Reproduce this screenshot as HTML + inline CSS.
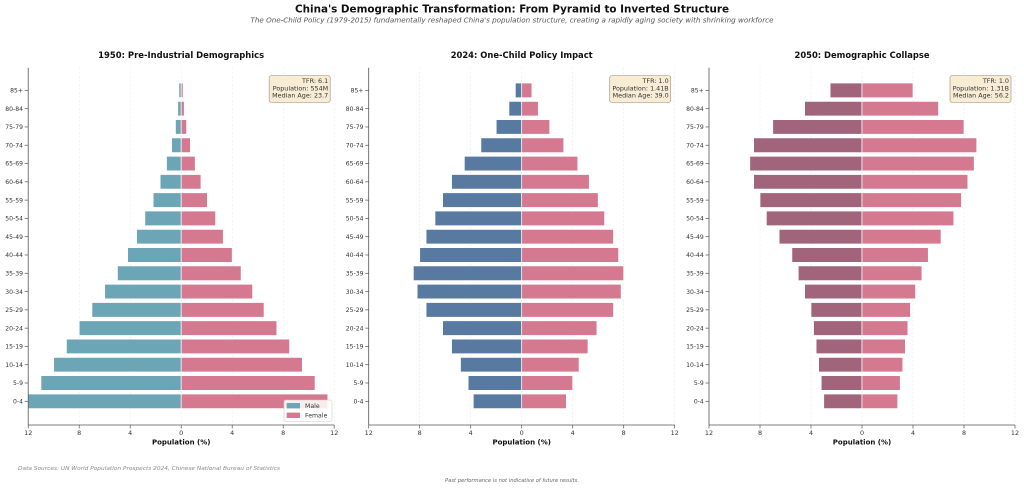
<!DOCTYPE html>
<html>
<head>
<meta charset="utf-8">
<style>
html,body{margin:0;padding:0;background:#fff;}
svg{display:block;}
text{font-family:"DejaVu Sans","Liberation Sans",sans-serif;}
</style>
</head>
<body>
<svg width="1024" height="488" viewBox="0 0 1024 488" xmlns="http://www.w3.org/2000/svg">
<rect width="1024" height="488" fill="#fff"/>

<!-- Titles -->
<text x="512" y="12.7" text-anchor="middle" font-size="10.3" font-weight="bold" fill="#111" textLength="434" lengthAdjust="spacingAndGlyphs">China's Demographic Transformation: From Pyramid to Inverted Structure</text>
<text x="512" y="22.5" text-anchor="middle" font-size="7" font-style="italic" fill="#555" textLength="523" lengthAdjust="spacingAndGlyphs">The One-Child Policy (1979-2015) fundamentally reshaped China's population structure, creating a rapidly aging society with shrinking workforce</text>

<!-- ============ PANEL 1 ============ -->
<g>
<text x="181.2" y="58" text-anchor="middle" font-size="8.4" font-weight="bold" fill="#111" textLength="166" lengthAdjust="spacingAndGlyphs">1950: Pre-Industrial Demographics</text>
<g stroke="#e9e9e9" stroke-width="0.6" stroke-dasharray="2,2">
<line x1="28.2" y1="67.7" x2="28.2" y2="425"/><line x1="79.2" y1="67.7" x2="79.2" y2="425"/><line x1="130.2" y1="67.7" x2="130.2" y2="425"/><line x1="181.2" y1="67.7" x2="181.2" y2="425"/><line x1="232.2" y1="67.7" x2="232.2" y2="425"/><line x1="283.2" y1="67.7" x2="283.2" y2="425"/><line x1="334.2" y1="67.7" x2="334.2" y2="425"/>
</g>
<g transform="translate(181.2,401.3) scale(12.75,-18.29)" stroke="#fff" stroke-width="0.7">
<g fill="#6ca5b5">
<rect x="-12" y="-0.4" width="12" height="0.8" vector-effect="non-scaling-stroke"/>
<rect x="-11" y="0.6" width="11" height="0.8" vector-effect="non-scaling-stroke"/>
<rect x="-10" y="1.6" width="10" height="0.8" vector-effect="non-scaling-stroke"/>
<rect x="-9" y="2.6" width="9" height="0.8" vector-effect="non-scaling-stroke"/>
<rect x="-8" y="3.6" width="8" height="0.8" vector-effect="non-scaling-stroke"/>
<rect x="-7" y="4.6" width="7" height="0.8" vector-effect="non-scaling-stroke"/>
<rect x="-6" y="5.6" width="6" height="0.8" vector-effect="non-scaling-stroke"/>
<rect x="-5" y="6.6" width="5" height="0.8" vector-effect="non-scaling-stroke"/>
<rect x="-4.2" y="7.6" width="4.2" height="0.8" vector-effect="non-scaling-stroke"/>
<rect x="-3.5" y="8.6" width="3.5" height="0.8" vector-effect="non-scaling-stroke"/>
<rect x="-2.85" y="9.6" width="2.85" height="0.8" vector-effect="non-scaling-stroke"/>
<rect x="-2.2" y="10.6" width="2.2" height="0.8" vector-effect="non-scaling-stroke"/>
<rect x="-1.65" y="11.6" width="1.65" height="0.8" vector-effect="non-scaling-stroke"/>
<rect x="-1.15" y="12.6" width="1.15" height="0.8" vector-effect="non-scaling-stroke"/>
<rect x="-0.75" y="13.6" width="0.75" height="0.8" vector-effect="non-scaling-stroke"/>
<rect x="-0.45" y="14.6" width="0.45" height="0.8" vector-effect="non-scaling-stroke"/>
<rect x="-0.27" y="15.6" width="0.27" height="0.8" vector-effect="non-scaling-stroke"/>
<rect x="-0.18" y="16.6" width="0.18" height="0.8" vector-effect="non-scaling-stroke"/>
</g>
<g fill="#d4798f">
<rect x="0" y="-0.4" width="11.5" height="0.8" vector-effect="non-scaling-stroke"/>
<rect x="0" y="0.6" width="10.5" height="0.8" vector-effect="non-scaling-stroke"/>
<rect x="0" y="1.6" width="9.5" height="0.8" vector-effect="non-scaling-stroke"/>
<rect x="0" y="2.6" width="8.5" height="0.8" vector-effect="non-scaling-stroke"/>
<rect x="0" y="3.6" width="7.5" height="0.8" vector-effect="non-scaling-stroke"/>
<rect x="0" y="4.6" width="6.5" height="0.8" vector-effect="non-scaling-stroke"/>
<rect x="0" y="5.6" width="5.6" height="0.8" vector-effect="non-scaling-stroke"/>
<rect x="0" y="6.6" width="4.7" height="0.8" vector-effect="non-scaling-stroke"/>
<rect x="0" y="7.6" width="4.0" height="0.8" vector-effect="non-scaling-stroke"/>
<rect x="0" y="8.6" width="3.3" height="0.8" vector-effect="non-scaling-stroke"/>
<rect x="0" y="9.6" width="2.7" height="0.8" vector-effect="non-scaling-stroke"/>
<rect x="0" y="10.6" width="2.05" height="0.8" vector-effect="non-scaling-stroke"/>
<rect x="0" y="11.6" width="1.55" height="0.8" vector-effect="non-scaling-stroke"/>
<rect x="0" y="12.6" width="1.1" height="0.8" vector-effect="non-scaling-stroke"/>
<rect x="0" y="13.6" width="0.72" height="0.8" vector-effect="non-scaling-stroke"/>
<rect x="0" y="14.6" width="0.42" height="0.8" vector-effect="non-scaling-stroke"/>
<rect x="0" y="15.6" width="0.24" height="0.8" vector-effect="non-scaling-stroke"/>
<rect x="0" y="16.6" width="0.15" height="0.8" vector-effect="non-scaling-stroke"/>
</g>
</g>
<g stroke="#555" stroke-width="0.8" fill="none">
<line x1="28.2" y1="67.7" x2="28.2" y2="425"/>
<line x1="28.2" y1="425" x2="334.2" y2="425"/>
</g>
<g stroke="#555" stroke-width="0.7">
<line x1="28.2" y1="425" x2="28.2" y2="428.5"/><line x1="79.2" y1="425" x2="79.2" y2="428.5"/><line x1="130.2" y1="425" x2="130.2" y2="428.5"/><line x1="181.2" y1="425" x2="181.2" y2="428.5"/><line x1="232.2" y1="425" x2="232.2" y2="428.5"/><line x1="283.2" y1="425" x2="283.2" y2="428.5"/><line x1="334.2" y1="425" x2="334.2" y2="428.5"/>
<line x1="24.7" y1="90.37" x2="28.2" y2="90.37"/><line x1="24.7" y1="108.66" x2="28.2" y2="108.66"/><line x1="24.7" y1="126.95" x2="28.2" y2="126.95"/><line x1="24.7" y1="145.24" x2="28.2" y2="145.24"/><line x1="24.7" y1="163.53" x2="28.2" y2="163.53"/><line x1="24.7" y1="181.82" x2="28.2" y2="181.82"/><line x1="24.7" y1="200.11" x2="28.2" y2="200.11"/><line x1="24.7" y1="218.4" x2="28.2" y2="218.4"/><line x1="24.7" y1="236.69" x2="28.2" y2="236.69"/><line x1="24.7" y1="254.98" x2="28.2" y2="254.98"/><line x1="24.7" y1="273.27" x2="28.2" y2="273.27"/><line x1="24.7" y1="291.56" x2="28.2" y2="291.56"/><line x1="24.7" y1="309.85" x2="28.2" y2="309.85"/><line x1="24.7" y1="328.14" x2="28.2" y2="328.14"/><line x1="24.7" y1="346.43" x2="28.2" y2="346.43"/><line x1="24.7" y1="364.72" x2="28.2" y2="364.72"/><line x1="24.7" y1="383.01" x2="28.2" y2="383.01"/><line x1="24.7" y1="401.3" x2="28.2" y2="401.3"/>
</g>
<g font-size="6.1" fill="#333" text-anchor="end">
<text x="23" y="92.5">85+</text><text x="23" y="110.8">80-84</text><text x="23" y="129.1">75-79</text><text x="23" y="147.4">70-74</text><text x="23" y="165.7">65-69</text><text x="23" y="184">60-64</text><text x="23" y="202.3">55-59</text><text x="23" y="220.6">50-54</text><text x="23" y="238.9">45-49</text><text x="23" y="257.2">40-44</text><text x="23" y="275.5">35-39</text><text x="23" y="293.8">30-34</text><text x="23" y="312">25-29</text><text x="23" y="330.3">20-24</text><text x="23" y="348.6">15-19</text><text x="23" y="366.9">10-14</text><text x="23" y="385.2">5-9</text><text x="23" y="403.5">0-4</text>
</g>
<g font-size="6.4" fill="#333" text-anchor="middle">
<text x="28.2" y="435.2">12</text><text x="79.2" y="435.2">8</text><text x="130.2" y="435.2">4</text><text x="181.2" y="435.2">0</text><text x="232.2" y="435.2">4</text><text x="283.2" y="435.2">8</text><text x="334.2" y="435.2">12</text>
</g>
<text x="181.2" y="444.5" text-anchor="middle" font-size="7" font-weight="bold" fill="#111">Population (%)</text>
<rect x="269.2" y="75.7" width="61" height="26.6" rx="2" fill="#f8ecd4" stroke="#a99c84" stroke-width="0.7"/>
<g font-size="6.4" fill="#333" text-anchor="end">
<text x="328.2" y="83">TFR: 6.1</text><text x="328.2" y="90.3">Population: 554M</text><text x="328.2" y="97.6">Median Age: 23.7</text>
</g>
<rect x="284" y="400" width="48" height="21.5" rx="2" fill="#fff" fill-opacity="0.85" stroke="#cccccc" stroke-width="0.6"/>
<rect x="286.7" y="403" width="13.3" height="5.4" fill="#6ca5b5"/>
<rect x="286.7" y="412.6" width="13.3" height="5.4" fill="#d4798f"/>
<g font-size="6.2" fill="#333">
<text x="305" y="408.2">Male</text><text x="305" y="417.6">Female</text>
</g>
</g>

<!-- ============ PANEL 2 ============ -->
<g>
<text x="521.7" y="58" text-anchor="middle" font-size="8.4" font-weight="bold" fill="#111" textLength="142" lengthAdjust="spacingAndGlyphs">2024: One-Child Policy Impact</text>
<g stroke="#e9e9e9" stroke-width="0.6" stroke-dasharray="2,2">
<line x1="368.7" y1="67.7" x2="368.7" y2="425"/><line x1="419.7" y1="67.7" x2="419.7" y2="425"/><line x1="470.7" y1="67.7" x2="470.7" y2="425"/><line x1="521.7" y1="67.7" x2="521.7" y2="425"/><line x1="572.7" y1="67.7" x2="572.7" y2="425"/><line x1="623.7" y1="67.7" x2="623.7" y2="425"/><line x1="674.7" y1="67.7" x2="674.7" y2="425"/>
</g>
<g transform="translate(521.7,401.3) scale(12.75,-18.29)" stroke="#fff" stroke-width="0.7">
<g fill="#587aa0">
<rect x="-3.8" y="-0.4" width="3.8" height="0.8" vector-effect="non-scaling-stroke"/>
<rect x="-4.2" y="0.6" width="4.2" height="0.8" vector-effect="non-scaling-stroke"/>
<rect x="-4.8" y="1.6" width="4.8" height="0.8" vector-effect="non-scaling-stroke"/>
<rect x="-5.5" y="2.6" width="5.5" height="0.8" vector-effect="non-scaling-stroke"/>
<rect x="-6.2" y="3.6" width="6.2" height="0.8" vector-effect="non-scaling-stroke"/>
<rect x="-7.5" y="4.6" width="7.5" height="0.8" vector-effect="non-scaling-stroke"/>
<rect x="-8.2" y="5.6" width="8.2" height="0.8" vector-effect="non-scaling-stroke"/>
<rect x="-8.5" y="6.6" width="8.5" height="0.8" vector-effect="non-scaling-stroke"/>
<rect x="-8.0" y="7.6" width="8.0" height="0.8" vector-effect="non-scaling-stroke"/>
<rect x="-7.5" y="8.6" width="7.5" height="0.8" vector-effect="non-scaling-stroke"/>
<rect x="-6.8" y="9.6" width="6.8" height="0.8" vector-effect="non-scaling-stroke"/>
<rect x="-6.2" y="10.6" width="6.2" height="0.8" vector-effect="non-scaling-stroke"/>
<rect x="-5.5" y="11.6" width="5.5" height="0.8" vector-effect="non-scaling-stroke"/>
<rect x="-4.5" y="12.6" width="4.5" height="0.8" vector-effect="non-scaling-stroke"/>
<rect x="-3.2" y="13.6" width="3.2" height="0.8" vector-effect="non-scaling-stroke"/>
<rect x="-2.0" y="14.6" width="2.0" height="0.8" vector-effect="non-scaling-stroke"/>
<rect x="-1.0" y="15.6" width="1.0" height="0.8" vector-effect="non-scaling-stroke"/>
<rect x="-0.5" y="16.6" width="0.5" height="0.8" vector-effect="non-scaling-stroke"/>
</g>
<g fill="#d4798f">
<rect x="0" y="-0.4" width="3.5" height="0.8" vector-effect="non-scaling-stroke"/>
<rect x="0" y="0.6" width="4.0" height="0.8" vector-effect="non-scaling-stroke"/>
<rect x="0" y="1.6" width="4.5" height="0.8" vector-effect="non-scaling-stroke"/>
<rect x="0" y="2.6" width="5.2" height="0.8" vector-effect="non-scaling-stroke"/>
<rect x="0" y="3.6" width="5.9" height="0.8" vector-effect="non-scaling-stroke"/>
<rect x="0" y="4.6" width="7.2" height="0.8" vector-effect="non-scaling-stroke"/>
<rect x="0" y="5.6" width="7.8" height="0.8" vector-effect="non-scaling-stroke"/>
<rect x="0" y="6.6" width="8.0" height="0.8" vector-effect="non-scaling-stroke"/>
<rect x="0" y="7.6" width="7.6" height="0.8" vector-effect="non-scaling-stroke"/>
<rect x="0" y="8.6" width="7.2" height="0.8" vector-effect="non-scaling-stroke"/>
<rect x="0" y="9.6" width="6.5" height="0.8" vector-effect="non-scaling-stroke"/>
<rect x="0" y="10.6" width="6.0" height="0.8" vector-effect="non-scaling-stroke"/>
<rect x="0" y="11.6" width="5.3" height="0.8" vector-effect="non-scaling-stroke"/>
<rect x="0" y="12.6" width="4.4" height="0.8" vector-effect="non-scaling-stroke"/>
<rect x="0" y="13.6" width="3.3" height="0.8" vector-effect="non-scaling-stroke"/>
<rect x="0" y="14.6" width="2.2" height="0.8" vector-effect="non-scaling-stroke"/>
<rect x="0" y="15.6" width="1.3" height="0.8" vector-effect="non-scaling-stroke"/>
<rect x="0" y="16.6" width="0.8" height="0.8" vector-effect="non-scaling-stroke"/>
</g>
</g>
<g stroke="#555" stroke-width="0.8" fill="none">
<line x1="368.7" y1="67.7" x2="368.7" y2="425"/>
<line x1="368.7" y1="425" x2="674.7" y2="425"/>
</g>
<g stroke="#555" stroke-width="0.7">
<line x1="368.7" y1="425" x2="368.7" y2="428.5"/><line x1="419.7" y1="425" x2="419.7" y2="428.5"/><line x1="470.7" y1="425" x2="470.7" y2="428.5"/><line x1="521.7" y1="425" x2="521.7" y2="428.5"/><line x1="572.7" y1="425" x2="572.7" y2="428.5"/><line x1="623.7" y1="425" x2="623.7" y2="428.5"/><line x1="674.7" y1="425" x2="674.7" y2="428.5"/>
<line x1="365.2" y1="90.37" x2="368.7" y2="90.37"/><line x1="365.2" y1="108.66" x2="368.7" y2="108.66"/><line x1="365.2" y1="126.95" x2="368.7" y2="126.95"/><line x1="365.2" y1="145.24" x2="368.7" y2="145.24"/><line x1="365.2" y1="163.53" x2="368.7" y2="163.53"/><line x1="365.2" y1="181.82" x2="368.7" y2="181.82"/><line x1="365.2" y1="200.11" x2="368.7" y2="200.11"/><line x1="365.2" y1="218.4" x2="368.7" y2="218.4"/><line x1="365.2" y1="236.69" x2="368.7" y2="236.69"/><line x1="365.2" y1="254.98" x2="368.7" y2="254.98"/><line x1="365.2" y1="273.27" x2="368.7" y2="273.27"/><line x1="365.2" y1="291.56" x2="368.7" y2="291.56"/><line x1="365.2" y1="309.85" x2="368.7" y2="309.85"/><line x1="365.2" y1="328.14" x2="368.7" y2="328.14"/><line x1="365.2" y1="346.43" x2="368.7" y2="346.43"/><line x1="365.2" y1="364.72" x2="368.7" y2="364.72"/><line x1="365.2" y1="383.01" x2="368.7" y2="383.01"/><line x1="365.2" y1="401.3" x2="368.7" y2="401.3"/>
</g>
<g font-size="6.1" fill="#333" text-anchor="end">
<text x="363.5" y="92.5">85+</text><text x="363.5" y="110.8">80-84</text><text x="363.5" y="129.1">75-79</text><text x="363.5" y="147.4">70-74</text><text x="363.5" y="165.7">65-69</text><text x="363.5" y="184">60-64</text><text x="363.5" y="202.3">55-59</text><text x="363.5" y="220.6">50-54</text><text x="363.5" y="238.9">45-49</text><text x="363.5" y="257.2">40-44</text><text x="363.5" y="275.5">35-39</text><text x="363.5" y="293.8">30-34</text><text x="363.5" y="312">25-29</text><text x="363.5" y="330.3">20-24</text><text x="363.5" y="348.6">15-19</text><text x="363.5" y="366.9">10-14</text><text x="363.5" y="385.2">5-9</text><text x="363.5" y="403.5">0-4</text>
</g>
<g font-size="6.4" fill="#333" text-anchor="middle">
<text x="368.7" y="435.2">12</text><text x="419.7" y="435.2">8</text><text x="470.7" y="435.2">4</text><text x="521.7" y="435.2">0</text><text x="572.7" y="435.2">4</text><text x="623.7" y="435.2">8</text><text x="674.7" y="435.2">12</text>
</g>
<text x="521.7" y="444.5" text-anchor="middle" font-size="7" font-weight="bold" fill="#111">Population (%)</text>
<rect x="609.7" y="75.7" width="61" height="26.6" rx="2" fill="#f8ecd4" stroke="#a99c84" stroke-width="0.7"/>
<g font-size="6.4" fill="#333" text-anchor="end">
<text x="668.7" y="83">TFR: 1.0</text><text x="668.7" y="90.3">Population: 1.41B</text><text x="668.7" y="97.6">Median Age: 39.0</text>
</g>
</g>

<!-- ============ PANEL 3 ============ -->
<g>
<text x="862" y="58" text-anchor="middle" font-size="8.4" font-weight="bold" fill="#111" textLength="135" lengthAdjust="spacingAndGlyphs">2050: Demographic Collapse</text>
<g stroke="#e9e9e9" stroke-width="0.6" stroke-dasharray="2,2">
<line x1="709" y1="67.7" x2="709" y2="425"/><line x1="760" y1="67.7" x2="760" y2="425"/><line x1="811" y1="67.7" x2="811" y2="425"/><line x1="862" y1="67.7" x2="862" y2="425"/><line x1="913" y1="67.7" x2="913" y2="425"/><line x1="964" y1="67.7" x2="964" y2="425"/><line x1="1015" y1="67.7" x2="1015" y2="425"/>
</g>
<g transform="translate(862,401.3) scale(12.75,-18.29)" stroke="#fff" stroke-width="0.7">
<g fill="#a0657b">
<rect x="-3.0" y="-0.4" width="3.0" height="0.8" vector-effect="non-scaling-stroke"/>
<rect x="-3.2" y="0.6" width="3.2" height="0.8" vector-effect="non-scaling-stroke"/>
<rect x="-3.4" y="1.6" width="3.4" height="0.8" vector-effect="non-scaling-stroke"/>
<rect x="-3.6" y="2.6" width="3.6" height="0.8" vector-effect="non-scaling-stroke"/>
<rect x="-3.8" y="3.6" width="3.8" height="0.8" vector-effect="non-scaling-stroke"/>
<rect x="-4.0" y="4.6" width="4.0" height="0.8" vector-effect="non-scaling-stroke"/>
<rect x="-4.5" y="5.6" width="4.5" height="0.8" vector-effect="non-scaling-stroke"/>
<rect x="-5.0" y="6.6" width="5.0" height="0.8" vector-effect="non-scaling-stroke"/>
<rect x="-5.5" y="7.6" width="5.5" height="0.8" vector-effect="non-scaling-stroke"/>
<rect x="-6.5" y="8.6" width="6.5" height="0.8" vector-effect="non-scaling-stroke"/>
<rect x="-7.5" y="9.6" width="7.5" height="0.8" vector-effect="non-scaling-stroke"/>
<rect x="-8.0" y="10.6" width="8.0" height="0.8" vector-effect="non-scaling-stroke"/>
<rect x="-8.5" y="11.6" width="8.5" height="0.8" vector-effect="non-scaling-stroke"/>
<rect x="-8.8" y="12.6" width="8.8" height="0.8" vector-effect="non-scaling-stroke"/>
<rect x="-8.5" y="13.6" width="8.5" height="0.8" vector-effect="non-scaling-stroke"/>
<rect x="-7.0" y="14.6" width="7.0" height="0.8" vector-effect="non-scaling-stroke"/>
<rect x="-4.5" y="15.6" width="4.5" height="0.8" vector-effect="non-scaling-stroke"/>
<rect x="-2.5" y="16.6" width="2.5" height="0.8" vector-effect="non-scaling-stroke"/>
</g>
<g fill="#d4798f">
<rect x="0" y="-0.4" width="2.8" height="0.8" vector-effect="non-scaling-stroke"/>
<rect x="0" y="0.6" width="3.0" height="0.8" vector-effect="non-scaling-stroke"/>
<rect x="0" y="1.6" width="3.2" height="0.8" vector-effect="non-scaling-stroke"/>
<rect x="0" y="2.6" width="3.4" height="0.8" vector-effect="non-scaling-stroke"/>
<rect x="0" y="3.6" width="3.6" height="0.8" vector-effect="non-scaling-stroke"/>
<rect x="0" y="4.6" width="3.8" height="0.8" vector-effect="non-scaling-stroke"/>
<rect x="0" y="5.6" width="4.2" height="0.8" vector-effect="non-scaling-stroke"/>
<rect x="0" y="6.6" width="4.7" height="0.8" vector-effect="non-scaling-stroke"/>
<rect x="0" y="7.6" width="5.2" height="0.8" vector-effect="non-scaling-stroke"/>
<rect x="0" y="8.6" width="6.2" height="0.8" vector-effect="non-scaling-stroke"/>
<rect x="0" y="9.6" width="7.2" height="0.8" vector-effect="non-scaling-stroke"/>
<rect x="0" y="10.6" width="7.8" height="0.8" vector-effect="non-scaling-stroke"/>
<rect x="0" y="11.6" width="8.3" height="0.8" vector-effect="non-scaling-stroke"/>
<rect x="0" y="12.6" width="8.8" height="0.8" vector-effect="non-scaling-stroke"/>
<rect x="0" y="13.6" width="9.0" height="0.8" vector-effect="non-scaling-stroke"/>
<rect x="0" y="14.6" width="8.0" height="0.8" vector-effect="non-scaling-stroke"/>
<rect x="0" y="15.6" width="6.0" height="0.8" vector-effect="non-scaling-stroke"/>
<rect x="0" y="16.6" width="4.0" height="0.8" vector-effect="non-scaling-stroke"/>
</g>
</g>
<g stroke="#555" stroke-width="0.8" fill="none">
<line x1="709" y1="67.7" x2="709" y2="425"/>
<line x1="709" y1="425" x2="1015" y2="425"/>
</g>
<g stroke="#555" stroke-width="0.7">
<line x1="709" y1="425" x2="709" y2="428.5"/><line x1="760" y1="425" x2="760" y2="428.5"/><line x1="811" y1="425" x2="811" y2="428.5"/><line x1="862" y1="425" x2="862" y2="428.5"/><line x1="913" y1="425" x2="913" y2="428.5"/><line x1="964" y1="425" x2="964" y2="428.5"/><line x1="1015" y1="425" x2="1015" y2="428.5"/>
<line x1="705.5" y1="90.37" x2="709" y2="90.37"/><line x1="705.5" y1="108.66" x2="709" y2="108.66"/><line x1="705.5" y1="126.95" x2="709" y2="126.95"/><line x1="705.5" y1="145.24" x2="709" y2="145.24"/><line x1="705.5" y1="163.53" x2="709" y2="163.53"/><line x1="705.5" y1="181.82" x2="709" y2="181.82"/><line x1="705.5" y1="200.11" x2="709" y2="200.11"/><line x1="705.5" y1="218.4" x2="709" y2="218.4"/><line x1="705.5" y1="236.69" x2="709" y2="236.69"/><line x1="705.5" y1="254.98" x2="709" y2="254.98"/><line x1="705.5" y1="273.27" x2="709" y2="273.27"/><line x1="705.5" y1="291.56" x2="709" y2="291.56"/><line x1="705.5" y1="309.85" x2="709" y2="309.85"/><line x1="705.5" y1="328.14" x2="709" y2="328.14"/><line x1="705.5" y1="346.43" x2="709" y2="346.43"/><line x1="705.5" y1="364.72" x2="709" y2="364.72"/><line x1="705.5" y1="383.01" x2="709" y2="383.01"/><line x1="705.5" y1="401.3" x2="709" y2="401.3"/>
</g>
<g font-size="6.1" fill="#333" text-anchor="end">
<text x="703.8" y="92.5">85+</text><text x="703.8" y="110.8">80-84</text><text x="703.8" y="129.1">75-79</text><text x="703.8" y="147.4">70-74</text><text x="703.8" y="165.7">65-69</text><text x="703.8" y="184">60-64</text><text x="703.8" y="202.3">55-59</text><text x="703.8" y="220.6">50-54</text><text x="703.8" y="238.9">45-49</text><text x="703.8" y="257.2">40-44</text><text x="703.8" y="275.5">35-39</text><text x="703.8" y="293.8">30-34</text><text x="703.8" y="312">25-29</text><text x="703.8" y="330.3">20-24</text><text x="703.8" y="348.6">15-19</text><text x="703.8" y="366.9">10-14</text><text x="703.8" y="385.2">5-9</text><text x="703.8" y="403.5">0-4</text>
</g>
<g font-size="6.4" fill="#333" text-anchor="middle">
<text x="709" y="435.2">12</text><text x="760" y="435.2">8</text><text x="811" y="435.2">4</text><text x="862" y="435.2">0</text><text x="913" y="435.2">4</text><text x="964" y="435.2">8</text><text x="1015" y="435.2">12</text>
</g>
<text x="862" y="444.5" text-anchor="middle" font-size="7" font-weight="bold" fill="#111">Population (%)</text>
<rect x="950" y="75.7" width="61" height="26.6" rx="2" fill="#f8ecd4" stroke="#a99c84" stroke-width="0.7"/>
<g font-size="6.4" fill="#333" text-anchor="end">
<text x="1009" y="83">TFR: 1.0</text><text x="1009" y="90.3">Population: 1.31B</text><text x="1009" y="97.6">Median Age: 56.2</text>
</g>
</g>

<!-- Footer -->
<text x="18" y="470" font-size="5.5" font-style="italic" fill="#8a8a8a" textLength="262" lengthAdjust="spacingAndGlyphs">Data Sources: UN World Population Prospects 2024, Chinese National Bureau of Statistics</text>
<text x="512" y="481.8" text-anchor="middle" font-size="5" font-style="italic" fill="#666" textLength="134" lengthAdjust="spacingAndGlyphs">Past performance is not indicative of future results.</text>
</svg>
</body>
</html>
